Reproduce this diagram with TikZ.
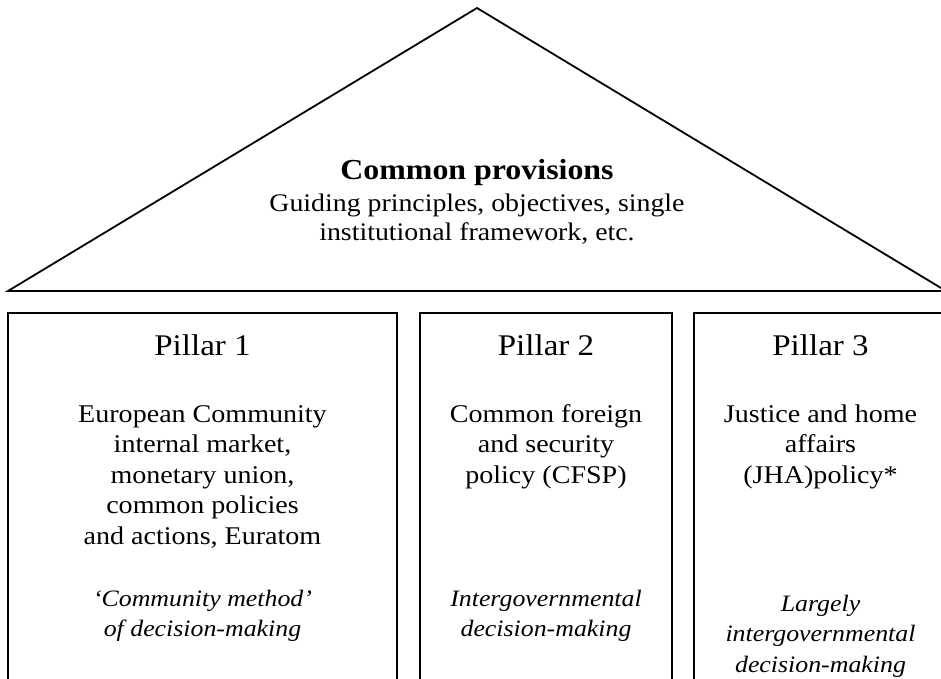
\documentclass[tikz,border=0pt]{standalone}
\usepackage{fontspec}
\setmainfont{Liberation Serif}[FakeStretch=1.1]
\usepackage{tikz}

\begin{document}
\begin{tikzpicture}[x=1pt, y=-1pt, line width=1.8pt,
    roofhead/.style={font=\fontsize{29}{32}\selectfont\bfseries, anchor=base},
    rooftext/.style={font=\fontsize{25.3}{29}\selectfont, align=center, anchor=base},
    pillarhead/.style={font=\fontsize{30}{36}\selectfont, anchor=base},
    pillartext/.style={font=\fontsize{25.5}{30.5}\selectfont, align=center, anchor=base},
    pillarmethod/.style={font=\fontsize{23.5}{30.5}\selectfont\itshape, align=center, anchor=base}]
        \useasboundingbox (0,0) rectangle (941,679);
        \clip (0,0) rectangle (941,679);

        % Roof
        \draw (8,291) -- (477,8) -- (946,291) -- cycle;
        \node[roofhead] (prov) at (477,179) {Common provisions};
        \node[rooftext] (provtext) at (477,240) {Guiding principles, objectives, single\\institutional framework, etc.};

        % Pillar 1
        \draw (8,313) rectangle (397,700);
        \node[pillarhead] (p1) at (202.5,355) {Pillar 1};
        \node[pillartext] (p1text) at (202.5,544) {European Community\\internal market,\\monetary union,\\common policies\\and actions, Euratom};
        \node[pillarmethod] (p1method) at (202.5,636.5) {`Community method'\\of decision-making};

        % Pillar 2
        \draw (420,313) rectangle (672,700);
        \node[pillarhead] (p2) at (546,355) {Pillar 2};
        \node[pillartext] (p2text) at (546,483) {Common foreign\\and security\\policy (CFSP)};
        \node[pillarmethod] (p2method) at (546,636.5) {Intergovernmental\\decision-making};

        % Pillar 3
        \draw (694,313) rectangle (947,700);
        \node[pillarhead] (p3) at (820.5,355) {Pillar 3};
        \node[pillartext] (p3text) at (820.5,483) {Justice and home\\affairs\\(JHA)policy*};
        \node[pillarmethod] (p3method) at (820.5,672) {Largely\\intergovernmental\\decision-making};
\end{tikzpicture}
\end{document}
